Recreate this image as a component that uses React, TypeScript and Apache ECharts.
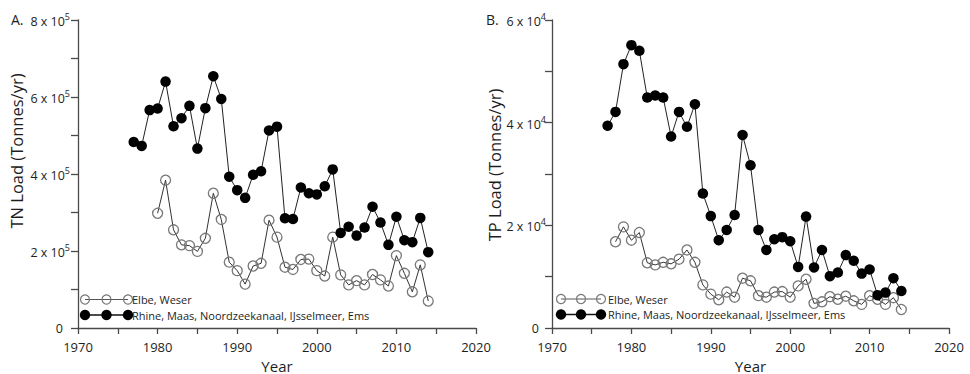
import React, { useEffect, useRef } from "react";
import * as echarts from "echarts";

// ---- Data ----
const xTicks = [1970, 1980, 1990, 2000, 2010, 2020];

const rhineYears = [1977, 1978, 1979, 1980, 1981, 1982, 1983, 1984, 1985, 1986, 1987, 1988, 1989, 1990, 1991, 1992, 1993, 1994, 1995, 1996, 1997, 1998, 1999, 2000, 2001, 2002, 2003, 2004, 2005, 2006, 2007, 2008, 2009, 2010, 2011, 2012, 2013, 2014];
const tnRhine = [483000, 473000, 566000, 570000, 640000, 524000, 545000, 577000, 466000, 571000, 654000, 595000, 393000, 358000, 338000, 398000, 407000, 513000, 523000, 285000, 283000, 365000, 350000, 347000, 368000, 412000, 247000, 263000, 240000, 261000, 315000, 274000, 216000, 289000, 228000, 223000, 286000, 197000];

const tnElbeYears = [1980, 1981, 1982, 1983, 1984, 1985, 1986, 1987, 1988, 1989, 1990, 1991, 1992, 1993, 1994, 1995, 1996, 1997, 1998, 1999, 2000, 2001, 2002, 2003, 2004, 2005, 2006, 2007, 2008, 2009, 2010, 2011, 2012, 2013, 2014];
const tnElbe = [298000, 384000, 255000, 216000, 214000, 199000, 233000, 350000, 282000, 171000, 149000, 114000, 161000, 168000, 280000, 236000, 158000, 152000, 178000, 179000, 149000, 135000, 236000, 138000, 112000, 123000, 112000, 139000, 125000, 109000, 188000, 142000, 94000, 164000, 70000];

const tpRhine = [39400, 42100, 51400, 55100, 54000, 44900, 45300, 44900, 37300, 42100, 39200, 43600, 26200, 21800, 17100, 19100, 22000, 37600, 31700, 19100, 15200, 17300, 17700, 16900, 11900, 21700, 11800, 15200, 10100, 10800, 14200, 13100, 10600, 11400, 6400, 6900, 9700, 7200];

const tpElbeYears = [1978, 1979, 1980, 1981, 1982, 1983, 1984, 1985, 1986, 1987, 1988, 1989, 1990, 1991, 1992, 1993, 1994, 1995, 1996, 1997, 1998, 1999, 2000, 2001, 2002, 2003, 2004, 2005, 2006, 2007, 2008, 2009, 2010, 2011, 2012, 2013, 2014];
const tpElbe = [16800, 19700, 17100, 18600, 12700, 12300, 12800, 12500, 13400, 15200, 12800, 8400, 6600, 5500, 7000, 6000, 9700, 9200, 6300, 6000, 7000, 7100, 6000, 8200, 9500, 4800, 5100, 6100, 5600, 6200, 5300, 4600, 6300, 5600, 4600, 5900, 3600];

const seriesNames = ["Elbe, Weser", "Rhine, Maas, Noordzeekanaal, IJsselmeer, Ems"];
const panelLetters = ["A.", "B."];
const yTitles = ["TN Load (Tonnes/yr)", "TP Load (Tonnes/yr)"];
const xTitle = "Year";
const tnMax = 800000;
const tnStep = 200000;
const tpMax = 60000;
const tpStep = 20000;

const FONT = "Open Sans";
const AXIS = "#4a4a4a";
const TEXT = "#1e1e1e";

function pairs(years: number[], vals: number[]) {
  return years.map((y, i) => [y, vals[i]]);
}

function yLabel(exp: number, unit: number) {
  return (v: number) => {
    if (v === 0) return "{z|0}";
    return `{b|${Math.round(v / unit)} x 10}{s|${exp}}`;
  };
}

function xAxisCfg(gridIndex: number) {
  return {
    type: "value",
    gridIndex,
    min: xTicks[0],
    max: xTicks[xTicks.length - 1],
    interval: 10,
    name: xTitle,
    nameLocation: "middle",
    nameGap: 30,
    nameTextStyle: { fontFamily: FONT, fontSize: 15, color: TEXT },
    axisLine: { show: true, onZero: false, lineStyle: { color: AXIS, width: 1.3 } },
    axisTick: { show: true, length: 6, lineStyle: { color: AXIS, width: 1.3 } },
    minorTick: { show: true, splitNumber: 2, length: 6, lineStyle: { color: AXIS, width: 1.3 } },
    splitLine: { show: false },
    axisLabel: {
      margin: 12,
      fontFamily: FONT,
      fontSize: 13,
      color: TEXT,
      showMinLabel: true,
      showMaxLabel: true,
      formatter: (v: number) => String(v),
    },
  };
}

function yAxisCfg(gridIndex: number, max: number, step: number, exp: number, unit: number, margin: number) {
  return {
    type: "value",
    gridIndex,
    min: 0,
    max,
    interval: step,
    axisLine: { show: true, lineStyle: { color: AXIS, width: 1.3 } },
    axisTick: { show: true, length: 7, lineStyle: { color: AXIS, width: 1.3 } },
    minorTick: { show: true, splitNumber: 2, length: 7, lineStyle: { color: AXIS, width: 1.3 } },
    splitLine: { show: false },
    axisLabel: {
      margin,
      formatter: yLabel(exp, unit),
      rich: {
        b: { fontFamily: FONT, fontSize: 12.5, color: TEXT, lineHeight: 16, verticalAlign: "bottom" },
        s: { fontFamily: FONT, fontSize: 9, color: TEXT, lineHeight: 12, verticalAlign: "top" },
        z: { fontFamily: FONT, fontSize: 12.5, color: TEXT, lineHeight: 16, padding: [0, 7, 0, 0] },
      },
    },
  };
}

function openSeries(name: string, idx: number, data: number[][]) {
  return {
    name,
    type: "line",
    xAxisIndex: idx,
    yAxisIndex: idx,
    data,
    symbol: "circle",
    symbolSize: 10,
    showAllSymbol: true,
    silent: true,
    lineStyle: { color: "#333", width: 1 },
    itemStyle: { color: "rgba(255,255,255,0)", borderColor: "#777", borderWidth: 1.3 },
    z: 2,
  };
}

function filledSeries(name: string, idx: number, data: number[][]) {
  return {
    name,
    type: "line",
    xAxisIndex: idx,
    yAxisIndex: idx,
    data,
    symbol: "circle",
    symbolSize: 10.5,
    showAllSymbol: true,
    silent: true,
    lineStyle: { color: "#222", width: 1 },
    itemStyle: { color: "#000" },
    z: 3,
  };
}

function legendGroup(xs: number[], textX: number, y1: number, y2: number) {
  const els: any[] = [];
  const ts = { fontFamily: FONT, fontSize: 11, lineHeight: 13, fill: TEXT, align: "left", verticalAlign: "middle" };
  els.push({ type: "line", shape: { x1: xs[0], y1, x2: xs[2], y2: y1 }, style: { stroke: "#555", lineWidth: 1 } });
  xs.forEach((cx) =>
    els.push({ type: "circle", shape: { cx, cy: y1, r: 4.5 }, style: { fill: "rgba(255,255,255,0)", stroke: "#777", lineWidth: 1.2 } })
  );
  els.push({ type: "text", x: textX, y: y1, style: { ...ts, text: seriesNames[0] } });
  els.push({ type: "line", shape: { x1: xs[0], y1: y2, x2: xs[2], y2 }, style: { stroke: "#111", lineWidth: 1.5 } });
  xs.forEach((cx) => els.push({ type: "circle", shape: { cx, cy: y2, r: 5.2 }, style: { fill: "#000" } }));
  els.push({ type: "text", x: textX, y: y2, style: { ...ts, text: seriesNames[1] } });
  return els;
}

export default function App() {
  const ref = useRef<HTMLDivElement>(null);
  useEffect(() => {
    if (!ref.current) return;
    const chart = echarts.init(ref.current, null, { renderer: "svg" });
    const option: any = {
      animation: false,
      backgroundColor: "#fff",
      grid: [
        { left: 78, top: 20, width: 398, height: 308, containLabel: false, outerBoundsMode: "none" },
        { left: 552, top: 20, width: 397, height: 308, containLabel: false, outerBoundsMode: "none" },
      ],
      xAxis: [xAxisCfg(0), xAxisCfg(1)],
      yAxis: [yAxisCfg(0, tnMax, tnStep, 5, 100000, 8), yAxisCfg(1, tpMax, tpStep, 4, 10000, 6)],
      series: [
        openSeries(seriesNames[0], 0, pairs(tnElbeYears, tnElbe)),
        filledSeries(seriesNames[1], 0, pairs(rhineYears, tnRhine)),
        openSeries(seriesNames[0], 1, pairs(tpElbeYears, tpElbe)),
        filledSeries(seriesNames[1], 1, pairs(rhineYears, tpRhine)),
      ],
      graphic: [
        { type: "text", x: 11, y: 19, style: { text: panelLetters[0], fontFamily: FONT, fontSize: 14, fill: TEXT, verticalAlign: "middle" } },
        { type: "text", x: 486, y: 19, style: { text: panelLetters[1], fontFamily: FONT, fontSize: 14, fill: TEXT, verticalAlign: "middle" } },
        { type: "text", x: 16, y: 151, rotation: Math.PI / 2, style: { text: yTitles[0], fontFamily: FONT, fontSize: 16.5, fill: TEXT, align: "center", verticalAlign: "middle" } },
        { type: "text", x: 494, y: 165, rotation: Math.PI / 2, style: { text: yTitles[1], fontFamily: FONT, fontSize: 16.5, fill: TEXT, align: "center", verticalAlign: "middle" } },
        ...legendGroup([85, 106.5, 128], 132, 299.5, 315),
        ...legendGroup([561, 581, 601], 608, 299, 314.5),
      ],
    };
    chart.setOption(option);
    return () => chart.dispose();
  }, []);
  return <div ref={ref} style={{ position: "fixed", left: 0, top: 0, width: 970, height: 374 }} />;
}
